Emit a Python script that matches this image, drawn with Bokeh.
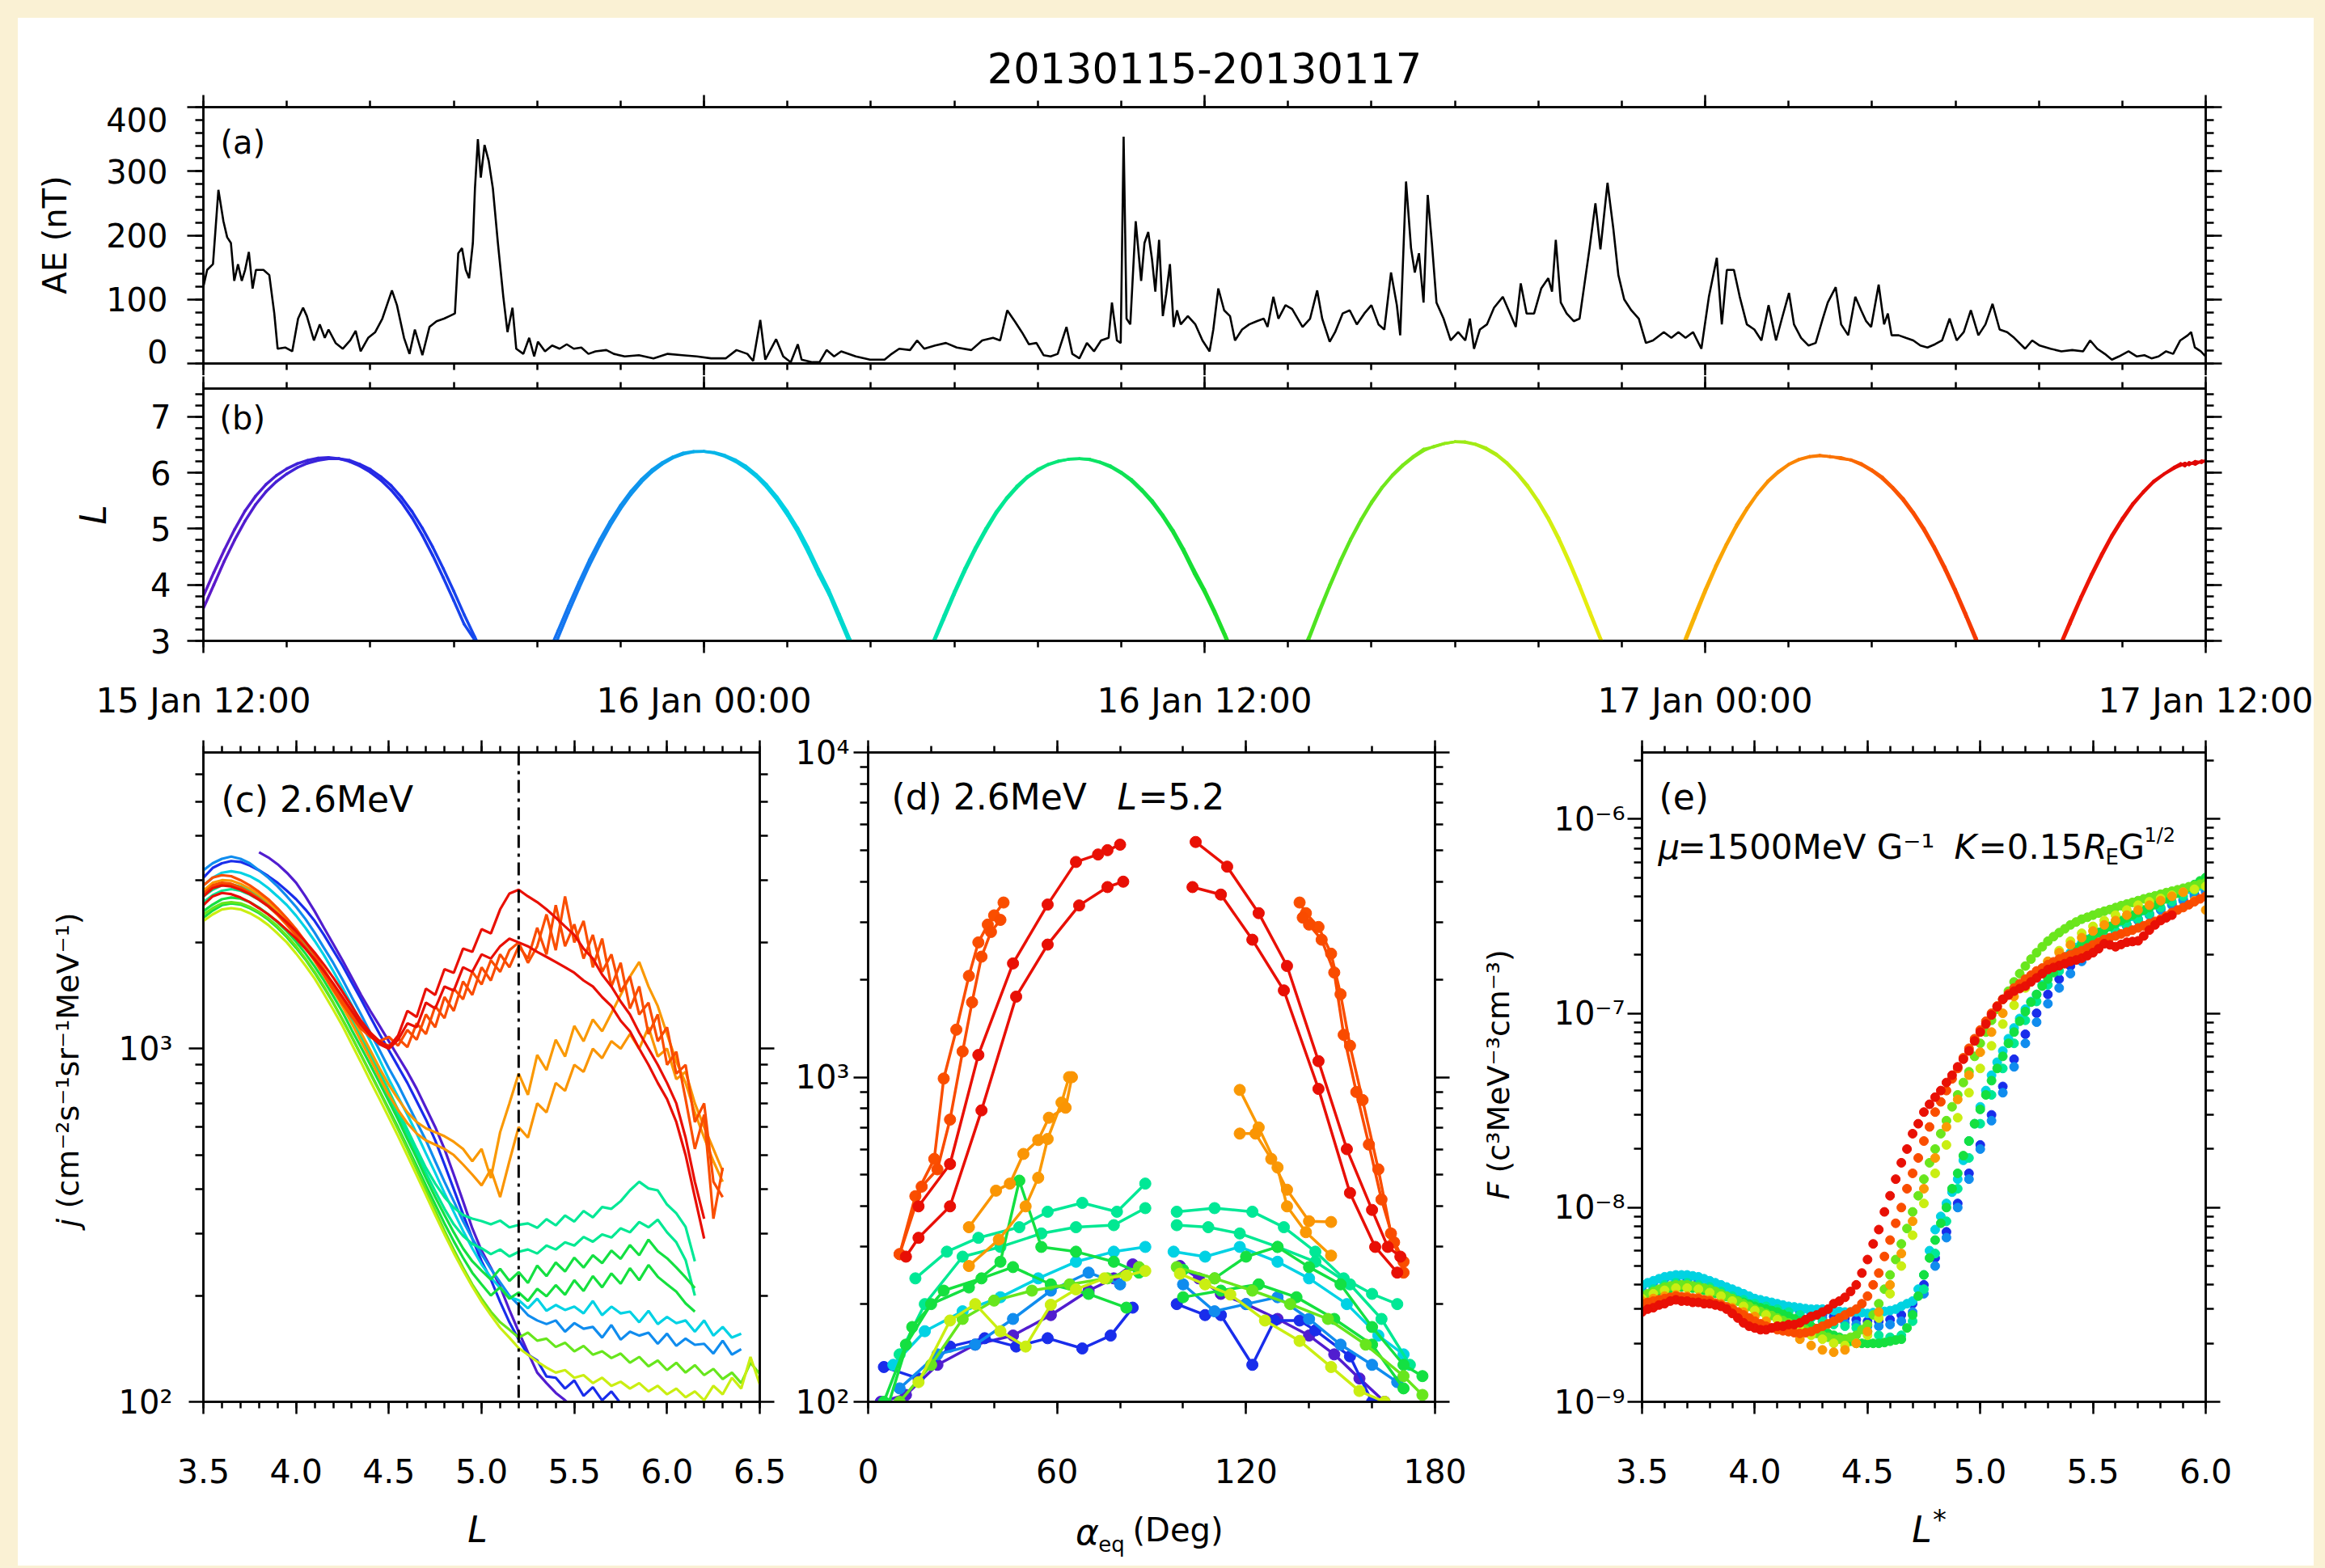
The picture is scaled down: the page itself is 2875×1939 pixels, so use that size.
import numpy as np
from bokeh.plotting import figure
from bokeh.layouts import column, row
from bokeh.models import (LinearAxis, LogAxis, FixedTicker, Range1d, Label, Span,
                          CustomJSTickFormatter, PrintfTickFormatter)
from bokeh.embed import file_html
from bokeh.resources import INLINE

FONT = "DejaVu Sans"
CREAM = "#FAF1D4"

# ---------------- panel (a): AE index (hours after 15 Jan 12:00, nT) ----------------
AE_HOURS = [
    0.00, 0.09, 0.23, 0.36, 0.48, 0.57, 0.66, 0.74, 0.83, 0.92,
    1.00, 1.09, 1.18, 1.26, 1.44, 1.58, 1.70, 1.78, 1.96, 2.13,
    2.27, 2.39, 2.48, 2.65, 2.79, 2.91, 3.00, 3.17, 3.34, 3.52,
    3.65, 3.77, 3.95, 4.12, 4.29, 4.52, 4.64, 4.81, 4.94, 5.07,
    5.25, 5.42, 5.59, 5.77, 5.90, 6.03, 6.11, 6.20, 6.29, 6.37,
    6.46, 6.51, 6.58, 6.65, 6.74, 6.84, 6.94, 7.06, 7.19, 7.29,
    7.41, 7.50, 7.67, 7.81, 7.93, 8.02, 8.19, 8.36, 8.54, 8.71,
    8.88, 9.06, 9.23, 9.40, 9.66, 9.84, 10.10, 10.44, 10.79, 11.13,
    11.48, 11.83, 12.17, 12.52, 12.78, 13.04, 13.18, 13.35, 13.47, 13.73,
    13.90, 14.08, 14.25, 14.34, 14.60, 14.77, 14.94, 15.12, 15.29, 15.64,
    15.98, 16.33, 16.50, 16.68, 16.94, 17.11, 17.28, 17.54, 17.80, 18.06,
    18.41, 18.67, 18.93, 19.10, 19.27, 19.45, 19.62, 19.79, 19.97, 20.14,
    20.31, 20.48, 20.69, 20.83, 21.00, 21.18, 21.35, 21.52, 21.70, 21.78,
    21.90, 21.99, 22.06, 22.13, 22.22, 22.35, 22.48, 22.56, 22.65, 22.74,
    22.82, 22.91, 23.00, 23.08, 23.17, 23.26, 23.34, 23.43, 23.60, 23.78,
    23.95, 24.12, 24.21, 24.33, 24.47, 24.61, 24.73, 24.90, 25.07, 25.25,
    25.42, 25.51, 25.65, 25.77, 25.94, 26.10, 26.35, 26.53, 26.70, 26.82,
    27.00, 27.13, 27.31, 27.48, 27.65, 27.83, 28.00, 28.17, 28.31, 28.47,
    28.61, 28.69, 28.83, 28.95, 29.04, 29.14, 29.25, 29.35, 29.45, 29.56,
    29.73, 29.90, 30.08, 30.25, 30.36, 30.46, 30.60, 30.77, 30.94, 31.15,
    31.29, 31.46, 31.58, 31.72, 31.90, 32.07, 32.24, 32.33, 32.42, 32.54,
    32.68, 32.85, 32.99, 33.11, 33.23, 33.37, 33.49, 33.66, 33.80, 33.92,
    34.06, 34.23, 34.41, 34.58, 34.75, 35.01, 35.19, 35.36, 35.53, 35.71,
    35.91, 36.09, 36.28, 36.40, 36.52, 36.69, 36.83, 37.00, 37.18, 37.35,
    37.52, 37.70, 37.84, 38.01, 38.13, 38.30, 38.48, 38.65, 38.82, 38.94,
    39.13, 39.26, 39.43, 39.60, 39.74, 39.86, 39.98, 40.16, 40.29, 40.38,
    40.47, 40.64, 40.81, 40.99, 41.16, 41.33, 41.51, 41.68, 41.86, 42.03,
    42.20, 42.37, 42.55, 42.72, 42.89, 43.06, 43.24, 43.41, 43.67, 43.84,
    44.02, 44.28, 44.54, 44.80, 45.06, 45.23, 45.40, 45.58, 45.75, 45.92,
    46.15, 46.35, 46.53, 46.70, 46.87, 47.05, 47.22, 47.39, 47.57, 47.65,
    47.74, 47.88, 48.00]
AE_NT = [
    120, 146, 155, 271, 222, 197, 188, 129, 155, 129,
    146, 174, 117, 146, 146, 138, 78, 23, 25, 19,
    70, 87, 74, 36, 61, 40, 53, 32, 23, 36,
    51, 19, 40, 49, 70, 114, 91, 40, 15, 53,
    13, 57, 66, 70, 74, 78, 172, 180, 146, 133,
    188, 273, 350, 290, 341, 316, 273, 188, 104, 49,
    87, 23, 15, 40, 11, 34, 19, 28, 23, 30,
    23, 25, 15, 19, 21, 15, 11, 13, 8, 15,
    13, 11, 8, 8, 21, 15, 4, 68, 6, 38,
    11, 2, 30, 6, 2, 2, 21, 11, 19, 11,
    6, 6, 15, 23, 21, 36, 23, 28, 32, 25,
    21, 36, 40, 36, 83, 66, 49, 30, 32, 13,
    11, 15, 57, 15, 8, 32, 19, 36, 40, 95,
    36, 32, 354, 70, 61, 222, 129, 188, 205, 163,
    112, 193, 74, 108, 155, 57, 83, 61, 74, 61,
    36, 19, 53, 117, 83, 74, 36, 53, 61, 66,
    70, 57, 104, 70, 91, 85, 57, 70, 114, 70,
    34, 49, 78, 83, 61, 78, 91, 61, 53, 142,
    91, 44, 284, 180, 142, 172, 95, 263, 188, 95,
    70, 36, 49, 36, 70, 23, 53, 61, 87, 104,
    83, 57, 125, 78, 78, 117, 133, 112, 193, 95,
    78, 66, 70, 125, 180, 250, 178, 282, 210, 138,
    100, 83, 70, 32, 36, 49, 40, 49, 40, 49,
    23, 104, 165, 61, 146, 146, 104, 61, 53, 36,
    91, 36, 70, 110, 61, 40, 28, 32, 70, 95,
    119, 61, 44, 104, 83, 66, 57, 123, 61, 78,
    44, 44, 40, 36, 28, 25, 30, 36, 70, 36,
    49, 83, 44, 61, 93, 53, 49, 40, 23, 36,
    28, 23, 19, 21, 19, 36, 23, 15, 6, 11,
    19, 11, 13, 8, 11, 19, 15, 36, 44, 49,
    25, 19, 11]
AE_TICKS = [0, 100, 200, 300, 400]

TIME_TICKS = [0, 12, 24, 36, 48]
TIME_LABELS = ["15 Jan 12:00", "16 Jan 00:00", "16 Jan 12:00", "17 Jan 00:00", "17 Jan 12:00"]
TIME_MINOR = list(range(0, 49, 2))

# ---------------- panel (b): L of the two probes along each orbit ----------------
ARC1_T = [0.0, 0.25, 0.5, 0.75, 1.0, 1.25, 1.5, 1.75, 2.0, 2.25, 2.5, 2.75, 3.0, 3.25,
          3.5, 3.75, 4.0, 4.25, 4.5, 4.75, 5.0, 5.25, 5.5, 5.75, 6.0, 6.25, 6.5, 6.75]
ARC1_A = [3.80, 4.22, 4.62, 4.99, 5.32, 5.58, 5.79, 5.95, 6.07, 6.16, 6.22, 6.26, 6.27, 6.25,
          6.20, 6.12, 6.01, 5.87, 5.69, 5.47, 5.20, 4.88, 4.52, 4.13, 3.72, 3.30, 3.02, 2.60]
ARC1_B = [3.58, 4.00, 4.42, 4.80, 5.14, 5.43, 5.66, 5.84, 5.98, 6.09, 6.17, 6.22, 6.25, 6.25,
          6.22, 6.15, 6.06, 5.93, 5.77, 5.56, 5.31, 5.01, 4.67, 4.29, 3.89, 3.47, 3.08, 2.70]
ARC2_T = [8.25, 8.5, 8.75, 9.0, 9.25, 9.5, 9.75, 10.0, 10.25, 10.5, 10.75, 11.0, 11.25, 11.5,
          11.75, 12.0, 12.25, 12.5, 12.75, 13.0, 13.25, 13.5, 13.75, 14.0, 14.25, 14.5, 14.75,
          15.0, 15.25, 15.5, 15.75]
ARC2_A = [2.75, 3.18, 3.62, 4.04, 4.44, 4.80, 5.13, 5.42, 5.67, 5.88, 6.05, 6.18, 6.28, 6.35,
          6.38, 6.38, 6.35, 6.29, 6.20, 6.08, 5.93, 5.74, 5.51, 5.24, 4.93, 4.57, 4.18,
          3.82, 3.38, 2.94, 2.50]
ARC2_B = [2.62, 3.05, 3.50, 3.93, 4.34, 4.71, 5.05, 5.35, 5.61, 5.83, 6.01, 6.15, 6.26, 6.33,
          6.37, 6.38, 6.36, 6.31, 6.23, 6.12, 5.97, 5.79, 5.57, 5.31, 5.01, 4.66, 4.27,
          3.90, 3.47, 3.03, 2.60]
ARC3_T = [17.25, 17.5, 17.75, 18.0, 18.25, 18.5, 18.75, 19.0, 19.25, 19.5, 19.75, 20.0, 20.25,
          20.5, 20.75, 21.0, 21.25, 21.5, 21.75, 22.0, 22.25, 22.5, 22.75, 23.0, 23.25, 23.5,
          23.75, 24.0, 24.25, 24.5, 24.75]
ARC3_A = [2.72, 3.00, 3.45, 3.88, 4.29, 4.66, 5.00, 5.30, 5.55, 5.76, 5.93, 6.06, 6.15,
          6.21, 6.24, 6.25, 6.23, 6.18, 6.10, 5.99, 5.85, 5.67, 5.46, 5.21, 4.92, 4.58,
          4.20, 3.86, 3.47, 3.05, 2.62]
ARC3_B = [2.65, 2.95, 3.38, 3.82, 4.23, 4.61, 4.95, 5.26, 5.52, 5.73, 5.91, 6.04, 6.14,
          6.20, 6.24, 6.25, 6.24, 6.19, 6.12, 6.01, 5.88, 5.70, 5.50, 5.25, 4.97, 4.64,
          4.27, 3.92, 3.53, 3.11, 2.68]
ARC4_T = [26.25, 26.5, 26.75, 27.0, 27.25, 27.5, 27.75, 28.0, 28.25, 28.5, 28.75, 29.0, 29.25,
          29.5, 29.75, 30.0, 30.25, 30.5, 30.75, 31.0, 31.25, 31.5, 31.75, 32.0, 32.25, 32.5,
          32.75, 33.0, 33.25, 33.5, 33.75]
ARC4_A = [2.70, 3.07, 3.55, 4.00, 4.43, 4.82, 5.17, 5.48, 5.74, 5.96, 6.14, 6.29, 6.42,
          6.46, 6.52, 6.55, 6.54, 6.50, 6.42, 6.31, 6.16, 5.97, 5.74, 5.47, 5.15, 4.78,
          4.37, 3.93, 3.46, 3.00, 2.55]
ARC4_B = [2.66, 3.02, 3.50, 3.96, 4.39, 4.79, 5.14, 5.45, 5.72, 5.94, 6.12, 6.27, 6.39,
          6.47, 6.52, 6.55, 6.55, 6.51, 6.44, 6.33, 6.18, 5.99, 5.77, 5.50, 5.19, 4.83,
          4.42, 3.98, 3.51, 3.04, 2.60]
ARC5_T = [35.25, 35.5, 35.75, 36.0, 36.25, 36.5, 36.75, 37.0, 37.25, 37.5, 37.75, 38.0, 38.25,
          38.5, 38.75, 39.0, 39.25, 39.5, 39.75, 40.0, 40.25, 40.5, 40.75, 41.0, 41.25, 41.5,
          41.75, 42.0, 42.25, 42.5, 42.75]
ARC5_A = [2.62, 3.00, 3.47, 3.92, 4.34, 4.72, 5.07, 5.37, 5.63, 5.85, 6.02, 6.15, 6.24,
          6.29, 6.31, 6.28, 6.27, 6.22, 6.14, 6.03, 5.89, 5.71, 5.50, 5.25, 4.96, 4.63,
          4.26, 3.86, 3.43, 2.98, 2.52]
ARC5_B = [2.55, 2.93, 3.40, 3.86, 4.29, 4.68, 5.03, 5.34, 5.61, 5.83, 6.00, 6.14, 6.23,
          6.28, 6.30, 6.29, 6.25, 6.23, 6.16, 6.05, 5.92, 5.74, 5.54, 5.29, 5.01, 4.68,
          4.32, 3.92, 3.49, 3.05, 2.59]
ARC6_T = [44.25, 44.5, 44.75, 45.0, 45.25, 45.5, 45.75, 46.0, 46.25, 46.5, 46.75, 47.0, 47.25,
          47.4, 47.5, 47.6, 47.75, 47.9, 48.0]
ARC6_A = [2.60, 2.92, 3.36, 3.78, 4.18, 4.55, 4.89, 5.19, 5.45, 5.66, 5.85, 5.98, 6.10,
          6.16, 6.12, 6.18, 6.15, 6.21, 6.20]
ARC6_B = [2.55, 2.87, 3.30, 3.73, 4.13, 4.50, 4.85, 5.15, 5.42, 5.64, 5.83, 5.97, 6.08,
          6.13, 6.17, 6.14, 6.20, 6.18, 6.22]
ARCS = [(ARC1_T, ARC1_A, ARC1_B), (ARC2_T, ARC2_A, ARC2_B), (ARC3_T, ARC3_A, ARC3_B),
        (ARC4_T, ARC4_A, ARC4_B), (ARC5_T, ARC5_A, ARC5_B), (ARC6_T, ARC6_A, ARC6_B)]

# ---------------- panel (c): 2.6 MeV flux vs L for each pass ----------------
L_GRID = [3.50, 3.55, 3.60, 3.65, 3.70, 3.75, 3.80, 3.85, 3.90, 3.95,
          4.00, 4.05, 4.10, 4.15, 4.20, 4.25, 4.30, 4.35, 4.40, 4.45,
          4.50, 4.55, 4.60, 4.65, 4.70, 4.75, 4.80, 4.85, 4.90, 4.95,
          5.00, 5.05, 5.10, 5.15, 5.20, 5.25, 5.30, 5.35, 5.40, 5.45,
          5.50, 5.55, 5.60, 5.65, 5.70, 5.75, 5.80, 5.85, 5.90, 5.95,
          6.00, 6.05, 6.10, 6.15, 6.20, 6.25, 6.30, 6.35, 6.40, 6.45, 6.50]
L_GRID_HALF = [3.525, 3.575, 3.625, 3.675, 3.725, 3.775, 3.825, 3.875, 3.925, 3.975,
               4.025, 4.075, 4.125, 4.175, 4.225, 4.275, 4.325, 4.375, 4.425, 4.475,
               4.525, 4.575, 4.625, 4.675, 4.725, 4.775, 4.825, 4.875, 4.925, 4.975,
               5.025, 5.075, 5.125, 5.175, 5.225, 5.275, 5.325, 5.375, 5.425, 5.475,
               5.525, 5.575, 5.625, 5.675, 5.725, 5.775, 5.825, 5.875, 5.925, 5.975]
# (pass time in hours, first L-grid index, flux values)
C_LINES = [
    (1.0, 6, [3600, 3480, 3330, 3150, 2950, 2700, 2450, 2200, 1980, 1780, 1590, 1420, 1280, 1160,
              1050, 950, 860, 770, 680, 600, 520, 440, 370, 310, 268, 240, 212, 182, 158, 138,
              121, 113, 106, 101, 96]),
    (5.0, 0, [3050, 3250, 3350, 3400, 3380, 3300, 3200, 3080, 2950, 2800, 2650, 2480, 2300, 2100,
              1900, 1720, 1540, 1380, 1230, 1100, 990, 890, 800, 710, 630, 550, 470, 400, 340,
              290, 250, 222, 192, 168, 150, 136, 131, 118, 117, 109, 115, 104, 110, 101, 107,
              99, 96]),
    (9.9, 0, [3200, 3350, 3450, 3500, 3450, 3350, 3200, 3050, 2880, 2700, 2520, 2330, 2130, 1930,
              1750, 1570, 1400, 1250, 1110, 990, 880, 790, 700, 620, 550, 480, 420, 370, 325,
              290, 262, 238, 218, 200, 188, 176, 170, 166, 170, 158, 167, 161, 163, 152, 165,
              150, 158, 154, 157, 146, 156, 144, 151, 145, 146, 137, 149, 136, 141]),
    (14.0, 0, [2900, 3050, 3150, 3180, 3150, 3080, 2980, 2850, 2700, 2550, 2380, 2200, 2020, 1840,
               1660, 1490, 1330, 1180, 1050, 930, 820, 730, 650, 575, 505, 445, 390, 345, 305,
               272, 245, 225, 210, 198, 194, 184, 196, 181, 188, 182, 186, 178, 193, 176, 186,
               178, 180, 168, 181, 166, 174, 167, 170, 158, 170, 154, 163, 152, 156]),
    (19.0, 0, [2700, 2820, 2900, 2920, 2880, 2800, 2700, 2580, 2440, 2300, 2150, 1990, 1830, 1670,
               1510, 1360, 1220, 1090, 970, 860, 760, 670, 590, 520, 460, 415, 380, 355, 338,
               330, 325, 318, 326, 312, 317, 320, 311, 329, 316, 337, 324, 347, 333, 356, 352,
               370, 397, 420, 402, 397, 362, 342, 313, 250]),
    (19.2, 0, [2600, 2720, 2800, 2830, 2800, 2730, 2640, 2530, 2400, 2260, 2110, 1950, 1790, 1630,
               1480, 1330, 1190, 1060, 940, 830, 735, 650, 575, 505, 445, 395, 352, 318, 295,
               280, 272, 262, 270, 258, 266, 270, 263, 277, 270, 283, 277, 293, 284, 298, 292,
               310, 302, 323, 312, 328, 302, 283, 252, 200]),
    (23.0, 0, [2450, 2560, 2650, 2680, 2660, 2600, 2510, 2400, 2280, 2150, 2010, 1860, 1710, 1560,
               1410, 1270, 1130, 1010, 900, 800, 710, 630, 555, 490, 430, 380, 338, 302, 272,
               250, 235, 222, 238, 220, 233, 217, 243, 227, 248, 234, 256, 240, 260, 247, 268,
               254, 278, 260, 288, 267, 255, 240, 225, 210]),
    (23.2, 0, [2350, 2460, 2550, 2580, 2560, 2500, 2420, 2320, 2200, 2070, 1930, 1790, 1640, 1490,
               1350, 1210, 1080, 960, 855, 760, 675, 598, 528, 466, 410, 362, 320, 285, 256,
               232, 215, 200, 211, 196, 204, 193, 209, 199, 214, 201, 221, 206, 227, 211, 231,
               216, 239, 221, 244, 226, 215, 205, 190, 180]),
    (27.9, 0, [2400, 2500, 2580, 2600, 2580, 2520, 2440, 2340, 2220, 2090, 1950, 1800, 1650, 1500,
               1350, 1210, 1080, 960, 850, 755, 668, 590, 520, 455, 398, 348, 305, 270, 240,
               215, 196, 180, 168, 160, 152, 157, 149, 151, 143, 147, 139, 144, 136, 139, 133,
               137, 129, 134, 126, 131, 123, 129, 121, 127, 119, 124, 116, 121, 113, 129, 120]),
    (32.0, 0, [2300, 2400, 2480, 2500, 2480, 2420, 2340, 2240, 2120, 2000, 1860, 1720, 1580, 1430,
               1290, 1160, 1030, 915, 810, 720, 638, 565, 498, 438, 385, 338, 298, 264, 236,
               212, 192, 176, 162, 152, 142, 136, 130, 125, 121, 123, 117, 119, 113, 117, 111,
               114, 109, 113, 107, 111, 105, 109, 103, 107, 101, 111, 105, 117, 109, 134, 112]),
    (37.0, 0, [2800, 2950, 3000, 2990, 2930, 2840, 2730, 2600, 2460, 2310, 2160, 2000, 1840, 1680,
               1520, 1380, 1240, 1110, 990, 880, 790, 720, 660, 620, 595, 580, 565, 545, 520,
               480, 520, 430, 580, 700, 850, 740, 960, 870, 1060, 950, 1160, 1050, 1210, 1120,
               1260, 1420, 1600, 1760, 1500, 1320, 1100, 920, 800, 660, 560, 480, 420]),
    (37.2, 0, [2750, 2880, 2930, 2920, 2860, 2770, 2660, 2530, 2390, 2240, 2090, 1930, 1770, 1610,
               1460, 1320, 1180, 1050, 935, 830, 740, 670, 615, 575, 550, 535, 520, 500, 470,
               440, 410, 455, 380, 480, 600, 560, 700, 660, 800, 760, 900, 860, 1000, 940, 1050,
               1000, 1100, 1000, 1150, 950, 1000, 820, 860, 700, 600, 520, 450]),
    (41.0, 0, [2900, 3050, 3100, 3080, 3000, 2900, 2780, 2650, 2500, 2340, 2180, 2010, 1840, 1670,
               1510, 1370, 1250, 1150, 1080, 1040, 1020, 1070, 1010, 1180, 1100, 1320, 1220,
               1480, 1380, 1650, 1520, 1780, 1650, 1900, 2000, 1750, 1950, 2400, 1900, 2700,
               2000, 2300, 1700, 2050, 1500, 1750, 1300, 1500, 1100, 1250, 900, 980, 720, 520,
               650, 330, 460]),
    (41.2, 0, [2750, 2900, 2950, 2930, 2860, 2770, 2660, 2540, 2400, 2250, 2100, 1940, 1780, 1620,
               1470, 1340, 1230, 1140, 1080, 1050, 1080, 1020, 1130, 1060, 1250, 1150, 1400,
               1280, 1550, 1420, 1700, 1560, 1850, 1700, 1950, 1800, 2200, 1850, 2550, 1950,
               2250, 1800, 2100, 1650, 1850, 1450, 1600, 1250, 1350, 1050, 1150, 850, 900, 620,
               700, 420, 380]),
    (46.0, 0, [2700, 2850, 2900, 2880, 2820, 2740, 2640, 2530, 2410, 2280, 2150, 2010, 1870, 1730,
               1590, 1450, 1320, 1200, 1110, 1050, 1010, 1090, 1280, 1230, 1480, 1420, 1680,
               1640, 1920, 1880, 2180, 2120, 2480, 2750, 2820, 2700, 2600, 2480, 2350, 2220,
               2100, 1920, 1800, 1620, 1500, 1360, 1250, 1110, 1000, 900, 800, 700, 560, 420,
               330]),
    (46.2, 0, [2550, 2700, 2760, 2740, 2680, 2600, 2500, 2400, 2290, 2170, 2050, 1920, 1790, 1660,
               1530, 1400, 1280, 1170, 1090, 1030, 1000, 1060, 1180, 1150, 1350, 1300, 1500,
               1460, 1700, 1650, 1850, 1800, 1950, 2050, 2000, 1950, 1880, 1820, 1760, 1700,
               1640, 1560, 1500, 1400, 1320, 1200, 1120, 1000, 900, 800, 720, 620, 500, 380,
               290]),
]
L_CUT = 5.2

# ---------------- panel (d): pitch-angle distributions at L=5.2 ----------------
# (pass time, alpha left, j left, alpha right, j right)
D_CURVES = [
    (1.0, [4, 12, 22, 34, 46, 58, 70, 78, 84], [100, 105, 130, 150, 160, 185, 220, 240, 265],
          [99, 105, 112, 120, 130, 140, 148, 156, 164], [262, 240, 215, 200, 180, 160, 140, 118, 100]),
    (5.0, [5, 16, 26, 37, 47, 57, 68, 77, 84], [128, 118, 148, 157, 148, 157, 146, 160, 195],
          [98, 107, 112, 122, 129, 137, 142, 153, 160], [200, 185, 185, 130, 178, 178, 166, 138, 100]),
    (9.9, [10, 22, 34, 46, 58, 70, 80], [110, 140, 150, 180, 220, 250, 230],
          [100, 110, 120, 130, 140, 150, 160, 168], [230, 190, 200, 210, 180, 150, 130, 115]),
    (14.0, [8, 18, 30, 42, 54, 66, 78, 88], [130, 165, 190, 210, 240, 270, 290, 300],
           [97, 107, 118, 130, 140, 152, 162, 170], [290, 280, 300, 270, 240, 200, 160, 140]),
    (19.0, [15, 25, 35, 48, 57, 68, 79, 88], [240, 290, 320, 345, 385, 410, 385, 470],
           [98, 110, 122, 132, 142, 151, 160, 168], [385, 395, 385, 345, 290, 240, 215, 200]),
    (19.2, [10, 18, 30, 42, 55, 66, 78, 88], [140, 200, 280, 300, 330, 345, 350, 395],
           [98, 108, 118, 130, 142, 153, 163, 172], [350, 345, 330, 300, 270, 230, 180, 130]),
    (23.0, [5, 12, 20, 32, 42, 48, 55, 66, 78, 86], [100, 150, 200, 225, 270, 480, 300, 290, 270, 250],
           [100, 110, 120, 130, 140, 150, 160, 170, 176], [255, 240, 280, 300, 260, 230, 170, 130, 120]),
    (23.2, [6, 14, 24, 36, 46, 58, 70, 82], [95, 170, 220, 240, 260, 230, 215, 195],
           [100, 112, 124, 136, 148, 160, 170], [210, 220, 230, 210, 180, 150, 110]),
    (27.9, [10, 20, 30, 40, 52, 64, 76, 86], [100, 130, 180, 205, 220, 230, 240, 260],
           [98, 110, 122, 134, 146, 158, 170, 176], [260, 240, 220, 200, 180, 150, 120, 105]),
    (32.0, [16, 26, 34, 42, 50, 58, 66, 75, 82, 88], [115, 178, 200, 165, 148, 199, 222, 240, 245, 253],
           [99, 107, 115, 126, 137, 147, 156, 164], [248, 230, 214, 178, 154, 128, 108, 100]),
    (37.0, [32, 41.5, 50, 54, 57, 61.4, 63.8], [262, 316, 400, 490, 645, 835, 1000],
           [118, 124, 130, 133, 139, 147], [913, 700, 527, 400, 333, 282]),
    (37.2, [32, 40.6, 45, 49.3, 54, 57.4, 62.7, 64.7], [345, 447, 470, 580, 640, 750, 805, 1000],
           [118, 123, 128, 133, 140, 147], [670, 670, 560, 450, 360, 358]),
    (41.0, [10, 15, 21, 24, 28, 32, 35, 38, 40, 43], [285, 430, 560, 990, 1400, 2050, 2600, 2950, 3150, 3450],
           [137, 139, 143, 147, 150, 153, 157, 162, 166, 170], [3450, 3200, 2900, 2400, 1800, 1250, 850, 520, 330, 270]),
    (41.2, [10, 17, 22, 26, 30, 33, 36, 39, 42], [285, 460, 520, 740, 1200, 1700, 2350, 2800, 3050],
           [138, 140, 144, 148, 151, 155, 159, 163, 167, 170], [3100, 2950, 2650, 2100, 1350, 900, 620, 420, 310, 250]),
    (46.0, [16, 26, 35, 46, 57, 66, 73, 76, 80], [400, 540, 1170, 2240, 3400, 4600, 4850, 5000, 5200],
           [104, 114, 124, 133, 143, 152, 160, 165, 169], [5300, 4450, 3200, 2200, 1120, 600, 390, 300, 280]),
    (46.2, [12, 16, 26, 36, 47, 57, 67, 76, 81], [280, 320, 400, 790, 1770, 2560, 3380, 3850, 4000],
           [103, 112, 122, 132, 143, 153, 161, 168], [3850, 3650, 2650, 1850, 920, 440, 300, 250]),
]

# ---------------- panel (e): phase space density vs L* (units of 1e-9) ----------------
F_UNIT = 1e-9
# (pass time, grid name, values)
E_CURVES = [
    (5.0, "full", [3.6, 3.8, 4.0, 4.15, 4.2, 4.15, 4.0, 3.8, 3.6, 3.4, 3.25, 3.1, 3.0, 2.95, 2.9, 2.85, 2.8,
           2.75, 2.7, 2.65, 2.6, 2.6, 2.65, 2.8, 3.2, 4.0, 5.5, 7.5, 10.5, 15, 21, 30, 42, 58, 78,
           100, 125, 150, 175, 200, 225, 245, 265, 285, 305, 325, 345, 365, 385, 410, 430]),
    (9.9, "full", [3.9, 4.1, 4.3, 4.4, 4.4, 4.3, 4.1, 3.9, 3.7, 3.5, 3.35, 3.2, 3.1, 3.0, 2.9, 2.8, 2.7,
           2.6, 2.55, 2.5, 2.45, 2.45, 2.5, 2.6, 2.9, 3.6, 5.0, 7.0, 10, 14, 20, 28, 39, 53, 70,
           90, 112, 135, 160, 185, 210, 235, 258, 280, 300, 320, 340, 360, 380, 400, 420]),
    (14.0, "full", [4.0, 4.2, 4.4, 4.5, 4.5, 4.4, 4.2, 4.0, 3.8, 3.6, 3.4, 3.3, 3.2, 3.1, 3.05, 3.0, 3.0,
            2.95, 2.9, 2.9, 2.85, 2.9, 2.95, 3.1, 3.3, 4.5, 7.7, 10.5, 14, 22, 33, 48, 64, 84, 105,
            125, 155, 185, 205, 230, 250, 270, 288, 305, 325, 350, 380, 410, 425, 445, 460]),
    (14.2, "half", [4.1, 4.3, 4.45, 4.5, 4.45, 4.3, 4.1, 3.9, 3.7, 3.5, 3.35, 3.25, 3.15, 3.08, 3.02,
            3.0, 2.98, 2.92, 2.9, 2.88, 2.88, 2.92, 3.0, 3.2, 3.8, 6.0, 9.0, 12, 17.5, 27, 40, 56,
            74, 94, 115, 140, 170, 195, 218, 240, 260, 279, 296, 315, 337, 365, 395, 418, 435, 452]),
    (19.0, "full", [3.6, 3.8, 4.0, 4.1, 4.1, 4.0, 3.9, 3.7, 3.5, 3.35, 3.2, 3.1, 3.0, 2.9, 2.8, 2.7, 2.6,
            2.5, 2.45, 2.4, 2.3, 2.2, 2.15, 2.2, 2.6, 3.8, 5.8, 8.5, 12.5, 18, 27, 38, 52, 70, 92,
            115, 140, 165, 190, 210, 230, 250, 265, 285, 305, 325, 350, 375, 400, 430, 470]),
    (23.0, "full", [3.3, 3.5, 3.7, 3.9, 3.9, 3.8, 3.7, 3.55, 3.4, 3.25, 3.1, 3.0, 2.9, 2.75, 2.6, 2.45,
            2.3, 2.2, 2.1, 2.0, 2.0, 2.0, 2.05, 2.1, 2.8, 4.5, 6.8, 10, 15, 22, 32, 45, 60, 80, 102,
            125, 150, 175, 200, 225, 250, 270, 290, 310, 330, 350, 375, 400, 430, 460, 500]),
    (23.2, "half", [3.4, 3.6, 3.8, 3.9, 3.85, 3.75, 3.62, 3.48, 3.32, 3.18, 3.05, 2.95, 2.82, 2.68, 2.52,
            2.38, 2.25, 2.15, 2.05, 2.0, 2.0, 2.02, 2.08, 2.4, 3.5, 5.5, 8.3, 12.5, 18.5, 27, 38,
            52, 70, 91, 114, 138, 162, 188, 212, 238, 260, 280, 300, 320, 340, 362, 388, 415, 445, 480]),
    (27.9, "full", [3.5, 3.7, 3.9, 4.0, 4.0, 3.9, 3.8, 3.6, 3.4, 3.2, 3.0, 2.85, 2.7, 2.55, 2.4, 2.3, 2.2,
            2.1, 2.1, 2.2, 2.5, 3.2, 4.5, 6.5, 9.5, 14, 20, 28, 38, 50, 70, 92, 118, 145, 175,
            205, 235, 260, 285, 305, 320, 335, 350, 365, 380, 395, 410, 425, 440, 455, 470]),
    (28.1, "half", [3.6, 3.8, 3.95, 4.0, 3.95, 3.85, 3.7, 3.5, 3.3, 3.1, 2.92, 2.78, 2.62, 2.48, 2.35,
            2.25, 2.15, 2.1, 2.15, 2.35, 2.8, 3.8, 5.4, 7.8, 11.5, 17, 24, 33, 44, 60, 80, 105, 130,
            160, 190, 220, 248, 272, 295, 312, 328, 342, 358, 372, 388, 402, 418, 432, 448, 462]),
    (32.0, "full", [3.4, 3.6, 3.75, 3.85, 3.85, 3.8, 3.65, 3.5, 3.3, 3.1, 2.95, 2.8, 2.65, 2.5, 2.35, 2.2,
            2.1, 2.0, 1.95, 2.0, 2.2, 2.7, 3.6, 5.0, 7.2, 10.5, 15, 21, 29, 39, 52, 68, 88, 110,
            135, 160, 185, 210, 235, 258, 280, 300, 320, 340, 360, 375, 390, 405, 420, 435, 450]),
    (37.0, "full", [3.3, 3.4, 3.5, 3.55, 3.5, 3.45, 3.35, 3.2, 3.05, 2.9, 2.75, 2.6, 2.45, 2.3, 2.1, 1.95,
            1.85, 1.8, 1.85, 2.0, 2.3, 2.9, 4.0, 5.8, 8.5, 12.5, 18, 26, 36, 48, 63, 80, 100, 122,
            145, 165, 185, 205, 225, 245, 265, 285, 300, 320, 340, 360, 380, 400, 420, 380, 340]),
    (41.0, "full", [3.2, 3.3, 3.4, 3.5, 3.45, 3.4, 3.3, 3.15, 3.0, 2.8, 2.6, 2.45, 2.35, 2.3, 2.25, 2.3,
            2.45, 2.6, 2.8, 3.0, 3.5, 4.6, 6.8, 10, 15, 22, 31, 40, 52, 66, 82, 100, 118, 135, 150,
            165, 178, 190, 200, 210, 225, 240, 250, 262, 275, 290, 305, 330, 350, 375, 400]),
    (41.2, "half", [3.25, 3.35, 3.45, 3.48, 3.42, 3.35, 3.22, 3.08, 2.9, 2.7, 2.52, 2.4, 2.32, 2.27, 2.27,
            2.38, 2.52, 2.7, 2.9, 3.2, 4.0, 5.6, 8.3, 12.5, 18, 26, 35, 46, 59, 74, 91, 109, 126,
            142, 157, 171, 184, 195, 205, 217, 232, 245, 256, 268, 282, 297, 317, 340, 362, 388]),
    (46.0, "full", [2.9, 3.05, 3.2, 3.35, 3.3, 3.25, 3.2, 3.1, 2.85, 2.55, 2.4, 2.35, 2.45, 2.5, 2.55,
            2.75, 2.9, 3.2, 3.45, 4.0, 5.4, 7.7, 11.5, 17, 24, 31, 37, 44, 53, 64, 80, 98, 118,
            130, 138, 152, 168, 176, 185, 192, 205, 228, 220, 232, 236, 268, 300, 320]),
    (46.2, "half", [3.0, 3.15, 3.3, 3.3, 3.25, 3.2, 3.15, 3.0, 2.7, 2.45, 2.35, 2.4, 2.45, 2.5, 2.65,
            2.8, 3.0, 3.3, 3.7, 4.6, 6.5, 9.5, 14, 20, 27, 34, 40, 48, 58, 72, 88, 108, 124, 134,
            145, 160, 172, 180, 188, 198, 215, 225, 226, 234, 250, 285, 310]),
]

# ---------------- colour table (time -> rainbow) ----------------
CMAP_T = [0, 5, 9, 14, 19, 24, 29, 33, 36, 41, 45, 48]
CMAP_R = [95, 25, 20, 0, 0, 25, 125, 228, 250, 250, 238, 222]
CMAP_G = [25, 45, 125, 210, 232, 222, 232, 240, 172, 78, 22, 5]
CMAP_B = [200, 235, 240, 228, 150, 45, 25, 15, 5, 0, 5, 5]


def cmap(t):
    r = np.interp(t, CMAP_T, CMAP_R)
    g = np.interp(t, CMAP_T, CMAP_G)
    b = np.interp(t, CMAP_T, CMAP_B)
    return "#%02x%02x%02x" % (int(round(r)), int(round(g)), int(round(b)))


# ---------------- layout (page pixels) ----------------
MARGIN = (22, 14, 3, 22)
FR_A = (251, 449)      # frame left, frame bottom (absolute page px)
FR_B = (251, 792)
FR_C = (251, 1733)
FR_D = (1073, 1733)
FR_E = (2030, 1733)
ROW_TOP, ROW_BOT = 33, 122


def style_fig(p):
    for g in p.grid:
        g.visible = False
    p.background_fill_color = "white"
    p.border_fill_color = "white"


def new_fig(w, h, bl, br, bt, bb, xr, yr, ylog=False):
    p = figure(width=w, height=h, x_range=Range1d(xr[0], xr[1]), y_range=Range1d(yr[0], yr[1]),
               y_axis_type=("log" if ylog else "linear"),
               x_axis_location=None, y_axis_location=None,
               output_backend="svg", toolbar_location=None,
               min_border_left=bl, min_border_right=br, min_border_top=bt, min_border_bottom=bb)
    style_fig(p)
    p.outline_line_color = "black"
    p.outline_line_width = 2.5
    return p


def text_fig(w, h, bl=0, br=0, bt=0, bb=0, yr=(0, 1)):
    p = figure(width=w, height=h, x_range=Range1d(0, 1), y_range=Range1d(yr[0], yr[1]),
               x_axis_location=None, y_axis_location=None,
               output_backend="svg", toolbar_location=None, min_border=0,
               min_border_left=bl, min_border_right=br, min_border_top=bt, min_border_bottom=bb)
    style_fig(p)
    p.outline_line_color = None
    return p


def sup_formatter():
    return CustomJSTickFormatter(code=r"""
const m = {'0':'\u2070','1':'\u00b9','2':'\u00b2','3':'\u00b3','4':'\u2074','5':'\u2075',
           '6':'\u2076','7':'\u2077','8':'\u2078','9':'\u2079','-':'\u207b'};
const e = Math.round(Math.log10(tick));
return '10' + String(e).split('').map(c => m[c]).join('');
""")


def add_axis(p, side, ticks, minor, log=False, labels=False, fmt=None, size=40,
             standoff=10, major_out=15, minor_out=8, overrides=None):
    cls = LogAxis if log else LinearAxis
    ax = cls(ticker=FixedTicker(ticks=ticks, minor_ticks=minor))
    ax.axis_line_width = 2.5
    ax.axis_line_color = "black"
    ax.major_tick_line_width = 2.5
    ax.minor_tick_line_width = 2.5
    ax.major_tick_line_color = "black"
    ax.minor_tick_line_color = "black"
    ax.major_tick_out = major_out
    ax.major_tick_in = 0
    ax.minor_tick_out = minor_out
    ax.minor_tick_in = 0
    if labels:
        ax.major_label_text_font = FONT
        ax.major_label_text_font_size = "%dpx" % size
        ax.major_label_text_color = "black"
        ax.major_label_standoff = standoff
        if fmt is not None:
            ax.formatter = fmt
        if overrides:
            ax.major_label_overrides = overrides
    else:
        ax.formatter = CustomJSTickFormatter(code="return '';")
        ax.major_label_text_font_size = "0px"
        ax.major_label_standoff = 0
    p.add_layout(ax, side)
    return ax


def text(p, fr, X, Y, s, size, italic=False, align="left", baseline="middle", angle=0.0):
    fl, fb = fr
    p.add_layout(Label(x=X - fl, y=fb - Y, x_units="screen", y_units="screen", text=s,
                       text_font=FONT, text_font_size="%dpx" % size,
                       text_font_style=("italic" if italic else "normal"),
                       text_color="black", text_align=align, text_baseline=baseline,
                       angle=angle))


# ================= title strip (frame aligned with panel b: 251..2727) =================
pt = text_fig(2839, 93, bl=229, br=134)
text(pt, (251, 115), 1489, 83, "20130115-20130117", 51, align="center")

# ================= panel (a) =================
la = text_fig(191, 349, bt=17, bb=15, yr=(0, 400))
text(la, (22, 449), 67, 290, "AE (nT)", 40, align="center", angle=np.pi / 2)
for v in AE_TICKS:
    base = "bottom" if v == AE_TICKS[0] else ("top" if v == AE_TICKS[-1] else "middle")
    la.add_layout(Label(x=207 - 22, y=v, x_units="screen", y_units="data", text=str(v),
                        text_font=FONT, text_font_size="40px", text_color="black",
                        text_align="right", text_baseline=base))
pa = new_fig(2648, 349, 38, 134, 17, 15, (0, 48), (0, 400))
add_axis(pa, "above", TIME_TICKS, TIME_MINOR)
add_axis(pa, "below", TIME_TICKS, TIME_MINOR)
add_axis(pa, "left", AE_TICKS, list(range(0, 401, 20)), major_out=20, minor_out=10)
add_axis(pa, "right", AE_TICKS, list(range(0, 401, 20)), major_out=20, minor_out=10)
pa.line(AE_HOURS, AE_NT, line_color="black", line_width=2.6)
text(pa, FR_A, 272, 175, "(a)", 40)

# ================= panel (b) =================
pb = new_fig(2839, 433, 229, 134, 16, 105, (0, 48), (3, 7.5))
add_axis(pb, "above", TIME_TICKS, TIME_MINOR)
add_axis(pb, "below", TIME_TICKS, TIME_MINOR, labels=True, size=42, standoff=34,
         overrides=dict(zip(TIME_TICKS, TIME_LABELS)))
L_MINOR = [3.0, 3.2, 3.4, 3.6, 3.8, 4.0, 4.2, 4.4, 4.6, 4.8, 5.0, 5.2, 5.4, 5.6, 5.8,
           6.0, 6.2, 6.4, 6.6, 6.8, 7.0, 7.2, 7.4]
axl = add_axis(pb, "left", [3, 4, 5, 6, 7], L_MINOR, labels=True, size=40, standoff=20,
               major_out=20, minor_out=10)
axl.axis_label = "L"
axl.axis_label_text_font = FONT
axl.axis_label_text_font_size = "44px"
axl.axis_label_text_font_style = "italic"
axl.axis_label_text_color = "black"
axl.axis_label_standoff = 42
add_axis(pb, "right", [3, 4, 5, 6, 7], L_MINOR, major_out=20, minor_out=10)
for T, LA, LB in ARCS:
    for Ls in (LA, LB):
        x0 = T[:-1]
        x1 = T[1:]
        y0 = Ls[:-1]
        y1 = Ls[1:]
        n = min(len(x0), len(y0))
        cols = [cmap(0.5 * (x0[i] + x1[i])) for i in range(n)]
        pb.segment(x0[:n], y0[:n], x1[:n], y1[:n], line_color=cols, line_width=3.5,
                   line_cap="round")
text(pb, FR_B, 271, 516, "(b)", 40)

# ================= panel (c) =================
ROW_H = ROW_TOP + 803 + ROW_BOT
LX_TICKS = [3.5, 4.0, 4.5, 5.0, 5.5, 6.0, 6.5]
LX_MINOR = [3.5, 3.6, 3.7, 3.8, 3.9, 4.0, 4.1, 4.2, 4.3, 4.4, 4.5, 4.6, 4.7, 4.8, 4.9, 5.0,
            5.1, 5.2, 5.3, 5.4, 5.5, 5.6, 5.7, 5.8, 5.9, 6.0, 6.1, 6.2, 6.3, 6.4, 6.5]
lc = text_fig(108, ROW_H, bt=ROW_TOP, bb=ROW_BOT)
text(lc, (22, 1733), 83, 1517, "j", 38, italic=True, align="left", angle=np.pi / 2)
text(lc, (22, 1733), 83, 1494, "(cm\u207b\u00b2s\u207b\u00b9sr\u207b\u00b9MeV\u207b\u00b9)", 38,
     align="left", angle=np.pi / 2)
pc = new_fig(845, ROW_H, 121, 36, ROW_TOP, ROW_BOT, (3.5, 6.5), (100, 6900), ylog=True)
add_axis(pc, "below", LX_TICKS, LX_MINOR, labels=True, size=41, standoff=55,
         fmt=PrintfTickFormatter(format="%.1f"))
add_axis(pc, "above", LX_TICKS, LX_MINOR)
C_MAJ = [100, 1000]
C_MIN = [200, 300, 400, 500, 600, 700, 800, 900, 2000, 3000, 4000, 5000, 6000]
add_axis(pc, "left", C_MAJ, C_MIN, log=True, labels=True, fmt=sup_formatter(), size=40,
         standoff=20, major_out=18, minor_out=10)
add_axis(pc, "right", C_MAJ, C_MIN, log=True, major_out=18, minor_out=10)
for t, i0, vals in C_LINES:
    xs = L_GRID[i0:i0 + len(vals)]
    pc.line(xs, vals[:len(xs)], line_color=cmap(t), line_width=3.2)
pc.add_layout(Span(location=L_CUT, dimension="height", line_color="black", line_width=3,
                   line_dash="16 7 4 7"))
text(pc, FR_C, 273, 988, "(c) 2.6MeV", 44)

# ================= panel (d) =================
pd_ = new_fig(841, ROW_H, 98, 42, ROW_TOP, ROW_BOT, (0, 180), (100, 10000), ylog=True)
add_axis(pd_, "below", [0, 60, 120, 180], [0, 20, 40, 60, 80, 100, 120, 140, 160, 180],
         labels=True, size=41, standoff=55)
add_axis(pd_, "above", [0, 60, 120, 180], [0, 20, 40, 60, 80, 100, 120, 140, 160, 180])
D_MAJ = [100, 1000, 10000]
D_MIN = [200, 300, 400, 500, 600, 700, 800, 900, 2000, 3000, 4000, 5000, 6000, 7000, 8000, 9000]
add_axis(pd_, "left", D_MAJ, D_MIN, log=True, labels=True, fmt=sup_formatter(), size=40,
         standoff=5, major_out=18, minor_out=10)
add_axis(pd_, "right", D_MAJ, D_MIN, log=True, major_out=18, minor_out=10)
for t, al, jl, ar, jr in D_CURVES:
    c = cmap(t)
    for a_, j_ in ((al, jl), (ar, jr)):
        pd_.line(a_, j_, line_color=c, line_width=3.5)
        pd_.scatter(a_, j_, marker="circle", size=14, fill_color=c, line_color=c)
text(pd_, FR_D, 1102, 985, "(d) 2.6MeV", 44)
text(pd_, FR_D, 1381, 985, "L", 44, italic=True)
text(pd_, FR_D, 1407, 985, "=5.2", 44)

# ================= panel (e) =================
le = text_fig(74, ROW_H, bt=ROW_TOP, bb=ROW_BOT)
text(le, (1816, 1733), 1852, 1483, "F", 38, italic=True, align="left", angle=np.pi / 2)
text(le, (1816, 1733), 1852, 1450, "(c\u00b3MeV\u207b\u00b3cm\u207b\u00b3)", 38, align="left",
     angle=np.pi / 2)
EX_TICKS = [3.5, 4.0, 4.5, 5.0, 5.5, 6.0]
EX_MINOR = LX_MINOR[:26]
pe = new_fig(971, ROW_H, 140, 134, ROW_TOP, ROW_BOT, (3.5, 6.0), (1e-9, 2.2e-6), ylog=True)
add_axis(pe, "below", EX_TICKS, EX_MINOR, labels=True, size=41, standoff=55,
         fmt=PrintfTickFormatter(format="%.1f"))
add_axis(pe, "above", EX_TICKS, EX_MINOR)
E_MAJ = [1e-9, 1e-8, 1e-7, 1e-6]
E_MIN = [k * d for d in (1e-9, 1e-8, 1e-7) for k in (2, 3, 4, 5, 6, 7, 8, 9)] + [2e-6]
add_axis(pe, "left", E_MAJ, E_MIN, log=True, labels=True, fmt=sup_formatter(), size=40,
         standoff=3, major_out=18, minor_out=10)
add_axis(pe, "right", E_MAJ, E_MIN, log=True, major_out=18, minor_out=10)
for t, grid_name, vals in E_CURVES:
    grid = L_GRID if grid_name == "full" else L_GRID_HALF
    n = min(len(vals), len(grid))
    xs = [x for x in grid[:n]]
    ys = [v * F_UNIT for v in vals[:n]]
    c = cmap(t)
    pe.scatter(xs, ys, marker="circle", size=11, fill_color=c, line_color=c)
text(pe, FR_E, 2051, 985, "(e)", 44)
text(pe, FR_E, 2050, 1047, "\u03bc", 42, italic=True)
text(pe, FR_E, 2074, 1047, "=1500MeV G\u207b\u00b9", 42)
text(pe, FR_E, 2416, 1047, "K", 42, italic=True)
text(pe, FR_E, 2446, 1047, "=0.15", 42)
text(pe, FR_E, 2576, 1047, "R", 42, italic=True)
text(pe, FR_E, 2603, 1059, "E", 26)
text(pe, FR_E, 2619, 1047, "G", 42)
text(pe, FR_E, 2651, 1032, "1/2", 24)

# ================= x-axis titles strip (frame aligned with panel b: 251..2727) =================
px = text_fig(2839, 81, bl=229, br=134)
FR_X = (251, 1936)
text(px, FR_X, 590, 1891, "L", 44, italic=True, align="center")
text(px, FR_X, 1344, 1894, "\u03b1", 44, italic=True, align="center")
text(px, FR_X, 1374, 1909, "eq", 26, align="center")
text(px, FR_X, 1400, 1891, "(Deg)", 40)
text(px, FR_X, 2376, 1891, "L", 44, italic=True, align="center")
text(px, FR_X, 2398, 1878, "*", 34, align="center")

# ================= page =================
inner = column(pt, row(la, pa, spacing=0), pb,
               row(lc, pc, pd_, le, pe, spacing=0), px, spacing=0,
               margin=MARGIN, styles={"background-color": "white"})
page = column(inner, width=2875, height=1939, styles={"background-color": CREAM})

open("out.html", "w", encoding="utf-8").write(file_html(page, INLINE))
